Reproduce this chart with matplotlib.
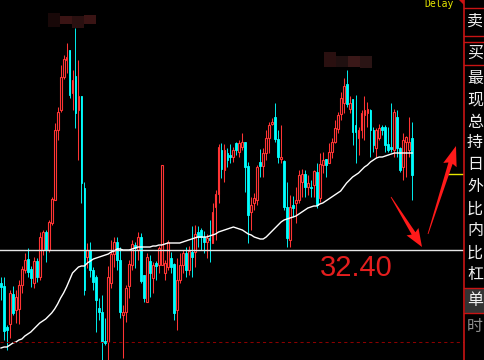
import numpy as np
import matplotlib.pyplot as plt
from matplotlib.patches import Rectangle, Polygon

# daily candles
opens = [
    30.75, 30.60, 28.55, 28.70, 30.20, 29.40, 29.45, 30.65, 31.40, 31.95,
    31.45, 30.75, 31.85, 31.05, 32.40, 33.30, 32.40, 33.75, 34.90, 38.40,
    39.40, 41.05, 41.90, 42.40, 40.25, 41.10, 39.40, 40.10, 35.50, 32.05,
    32.40, 31.40, 31.05, 29.50, 29.30, 27.85, 27.80, 30.75, 32.20, 32.80,
    31.90, 29.15, 29.30, 30.60, 31.65, 32.65, 32.40, 33.05, 31.15, 29.80,
    31.85, 31.00, 31.75, 31.65, 31.65, 31.25, 31.55, 32.00, 31.70, 29.40,
    30.90, 31.65, 32.25, 31.40, 32.30, 32.30, 33.30, 33.40, 33.05, 32.80,
    33.00, 32.75, 34.55, 35.20, 37.40, 36.40, 37.25, 37.15, 37.05, 37.75,
    37.30, 37.55, 37.80, 36.60, 34.30, 34.75, 34.90, 36.80, 36.60, 37.25,
    38.00, 38.70, 39.05, 37.95, 36.95, 36.85, 34.55, 32.90, 34.65, 34.75,
    34.90, 35.80, 36.20, 35.55, 35.55, 35.65, 36.30, 35.00, 36.65, 36.95,
    36.75, 37.30, 37.80, 38.45, 39.20, 39.75, 40.70, 39.45, 39.95, 38.65,
    38.00, 38.40, 39.15, 39.25, 39.40, 38.40, 37.50, 38.00, 38.55, 38.55,
    37.70, 37.55, 37.40, 39.05, 37.50, 36.55, 37.80, 37.40, 38.00,
]
highs = [
    31.05, 31.05, 28.65, 30.40, 30.60, 30.40, 30.90, 31.60, 32.25, 32.50,
    31.60, 32.05, 32.00, 33.30, 33.40, 33.40, 33.90, 35.05, 38.75, 39.55,
    41.65, 42.15, 42.75, 42.40, 41.40, 43.50, 41.90, 40.10, 35.80, 32.75,
    32.80, 31.55, 31.15, 30.00, 30.15, 29.00, 31.60, 32.90, 33.05, 33.05,
    32.55, 29.65, 30.65, 31.90, 32.90, 32.80, 33.30, 33.25, 31.15, 32.25,
    32.15, 31.80, 31.85, 32.60, 36.65, 31.90, 32.90, 32.30, 31.75, 32.00,
    32.25, 32.40, 32.55, 32.60, 33.60, 33.65, 33.60, 33.50, 33.35, 33.20,
    33.90, 34.75, 35.40, 37.70, 37.75, 37.70, 37.50, 37.70, 37.55, 37.80,
    37.90, 38.25, 37.80, 36.80, 35.05, 35.25, 36.65, 37.45, 37.50, 38.40,
    38.80, 39.00, 39.75, 38.40, 38.65, 36.90, 35.80, 35.15, 35.10, 35.55,
    36.40, 36.45, 36.40, 36.15, 35.90, 36.40, 36.75, 37.25, 37.30, 36.95,
    37.75, 38.00, 38.90, 39.30, 40.30, 41.00, 41.40, 40.10, 39.95, 40.15,
    38.55, 39.40, 40.10, 39.80, 39.45, 38.55, 38.50, 38.70, 38.65, 38.65,
    38.55, 39.75, 39.45, 39.40, 37.55, 38.25, 38.10, 39.05, 38.80,
]
lows = [
    29.90, 27.90, 27.40, 28.00, 29.15, 28.75, 28.70, 30.25, 31.25, 31.05,
    30.55, 30.50, 30.80, 30.90, 32.15, 31.80, 32.30, 33.65, 34.90, 37.90,
    39.30, 40.95, 41.25, 40.00, 39.40, 38.50, 36.90, 34.75, 30.15, 31.50,
    31.05, 30.40, 28.30, 28.90, 26.90, 27.65, 26.90, 30.50, 31.55, 31.40,
    29.00, 27.00, 28.80, 30.00, 31.40, 31.50, 31.90, 30.75, 29.80, 29.80,
    30.05, 30.25, 30.90, 31.25, 31.65, 30.90, 31.40, 31.25, 28.90, 28.40,
    30.75, 31.25, 31.05, 31.15, 31.05, 31.55, 32.55, 32.40, 32.25, 32.00,
    31.80, 32.75, 32.90, 34.75, 36.00, 35.80, 36.55, 36.75, 36.80, 37.15,
    37.05, 37.40, 35.30, 32.75, 33.40, 34.40, 34.65, 36.05, 36.05, 36.90,
    37.25, 38.65, 37.80, 36.75, 36.75, 34.40, 32.55, 32.55, 34.05, 33.75,
    34.75, 35.05, 35.05, 35.15, 35.05, 35.05, 34.50, 34.80, 36.25, 36.05,
    36.75, 37.00, 37.75, 38.25, 38.90, 39.25, 39.55, 39.25, 37.65, 36.75,
    37.15, 38.00, 37.90, 38.55, 37.05, 37.30, 37.05, 37.90, 38.15, 37.30,
    37.30, 37.30, 37.05, 37.05, 36.30, 35.90, 36.05, 37.05, 34.90,
]
closes = [
    30.55, 28.35, 28.40, 30.25, 29.25, 30.05, 30.65, 31.45, 31.90, 31.30,
    31.00, 31.85, 31.05, 33.05, 33.30, 32.40, 33.80, 34.95, 38.40, 39.30,
    41.05, 41.95, 42.05, 40.15, 40.90, 39.25, 40.10, 35.75, 30.40, 32.40,
    31.40, 30.80, 29.90, 29.30, 27.80, 27.75, 31.05, 32.20, 32.80, 31.90,
    29.30, 29.30, 30.50, 31.70, 32.70, 32.50, 33.05, 30.85, 30.00, 32.05,
    31.25, 31.65, 31.60, 32.50, 36.65, 31.75, 32.80, 31.55, 29.25, 30.90,
    31.65, 32.25, 31.40, 32.35, 32.05, 33.20, 33.05, 33.05, 32.80, 33.00,
    32.90, 34.30, 35.20, 37.55, 36.45, 37.40, 36.90, 37.05, 37.40, 37.40,
    37.75, 37.80, 36.55, 34.15, 34.65, 35.00, 36.55, 36.60, 37.25, 38.00,
    38.65, 38.80, 37.95, 37.05, 37.05, 34.55, 33.00, 34.55, 34.50, 34.90,
    36.15, 36.20, 35.55, 35.75, 35.50, 36.35, 34.65, 36.70, 36.90, 36.65,
    37.30, 37.80, 38.50, 39.15, 40.00, 40.60, 39.70, 39.75, 38.30, 38.30,
    38.40, 39.25, 39.40, 39.45, 38.40, 37.65, 38.40, 38.50, 38.40, 37.65,
    37.40, 37.45, 39.30, 37.50, 36.40, 37.90, 38.05, 37.80, 36.15,
]
ma_line = [
    27.50, 27.55, 27.55, 27.65, 27.75, 27.80, 27.90, 27.95, 28.10, 28.20,
    28.30, 28.45, 28.60, 28.75, 28.85, 28.95, 29.10, 29.25, 29.45, 29.70,
    30.00, 30.25, 30.55, 30.90, 31.25, 31.40, 31.55, 31.60, 31.60, 31.75,
    31.85, 31.95, 32.00, 32.05, 32.10, 32.15, 32.20, 32.30, 32.35, 32.45,
    32.45, 32.40, 32.40, 32.40, 32.45, 32.50, 32.55, 32.55, 32.55, 32.55,
    32.55, 32.60, 32.60, 32.65, 32.65, 32.70, 32.75, 32.75, 32.75, 32.75,
    32.75, 32.80, 32.85, 32.90, 32.95, 33.00, 33.05, 33.05, 33.05, 33.05,
    33.10, 33.15, 33.20, 33.30, 33.35, 33.40, 33.45, 33.50, 33.55, 33.50,
    33.45, 33.40, 33.30, 33.20, 33.15, 33.05, 33.00, 32.95, 32.95, 33.05,
    33.20, 33.35, 33.50, 33.65, 33.80, 33.90, 33.95, 34.00, 34.05, 34.10,
    34.20, 34.30, 34.40, 34.50, 34.55, 34.60, 34.60, 34.70, 34.75, 34.85,
    34.95, 35.05, 35.15, 35.25, 35.35, 35.55, 35.75, 35.90, 36.05, 36.15,
    36.25, 36.40, 36.55, 36.65, 36.80, 36.90, 37.00, 37.05, 37.05, 37.10,
    37.15, 37.20, 37.25, 37.25, 37.25, 37.25, 37.25, 37.25, 37.25,
]
ref_price = 32.40
ref_label = '32.40'
floor_price = 27.80
mark_price = 36.20
# side panel captions, cut to what fits in the visible strip
panel_labels = ['卖', '买', '最', '现', '总', '持', '日',
                '外', '比', '内', '比', '杠', '单', '时']

up_c = '#ff3434'
dn_c = '#00ffff'

fig = plt.figure(figsize=(4.84, 3.6), dpi=100, facecolor='black')
ax = fig.add_axes([0, 0, 464 / 484, 1])
ax.set_xlim(-0.34, 155.4)
ax.set_ylim(26.9, 44.9)
ax.axis('off')

o = np.array(opens)
h = np.array(highs)
l = np.array(lows)
c = np.array(closes)
x = np.arange(len(o))
up = c >= o
top = np.maximum(o, c)
bot = np.minimum(o, c)

# wicks (hollow red candles: wick stops at the body)
ax.vlines(x[up], top[up], h[up], color=up_c, lw=0.75)
ax.vlines(x[up], l[up], bot[up], color=up_c, lw=0.75)
ax.vlines(x[~up], l[~up], h[~up], color=dn_c, lw=0.65)
ax.bar(x[up], (top - bot)[up], bottom=bot[up], width=0.62,
       facecolor='black', edgecolor=up_c, lw=0.8)
ax.bar(x[~up], (top - bot)[~up], bottom=bot[~up], width=0.62,
       facecolor=dn_c, edgecolor=dn_c, lw=0.6)

ax.plot(x, ma_line, color='white', lw=1.0)
ax.axhline(ref_price, color='#e6e6e6', lw=1.0)
ax.axhline(floor_price, color='#8b0000', lw=0.75, ls=(0, (3, 3)))
ax.axhline(mark_price, xmin=447 / 464, xmax=1, color='#e6e600', lw=1.0)

# overlay in pixel coordinates for the side panel and annotations
ov = fig.add_axes([0, 0, 1, 1])
ov.set_xlim(0, 484)
ov.set_ylim(360, 0)
ov.axis('off')

# blurred price tags
for (bx, by, bw, bh, col) in [(48, 13, 12, 14, '#180808'), (60, 16, 12, 8, '#3a1414'),
                              (72, 16, 12, 12, '#2a1010'), (84, 15, 12, 9, '#3a1414'),
                              (324, 52, 12, 15, '#2a1010'), (336, 56, 12, 11, '#201010'),
                              (348, 56, 12, 11, '#3a1818'), (360, 56, 12, 12, '#2a1414')]:
    ov.add_patch(Rectangle((bx, by), bw, bh, color=col, lw=0))

ov.text(424, 4, 'Delay', color='#e6e600', fontsize=7, family='DejaVu Sans Mono',
        va='center', ha='left')
ov.add_patch(Polygon([(459, 0), (464, 0), (464, 5)], closed=True, color='#d01010', lw=0))

# side panel
ov.plot([464, 464], [0, 360], color='#c81414', lw=1.2)
for yy in [8, 36, 42, 65, 288, 313]:
    ov.plot([464, 484], [yy, yy], color='#c81414', lw=1.0)
ov.add_patch(Rectangle((465, 289), 19, 23.5, color='#333333', lw=0))
label_y = [21, 53, 78, 100, 122, 143, 165, 187, 209, 231, 253, 275, 300, 327]
for i, (lab, yy) in enumerate(zip(panel_labels, label_y)):
    col = '#909090' if i == len(panel_labels) - 1 else '#f0f0f0'
    ov.text(467, yy, lab, color=col, fontsize=11.5, va='center', ha='left',
            family=['Noto Sans CJK SC', 'DejaVu Sans'])

ov.text(320, 268, ref_label, color='#e41e1e', fontsize=21,
        family='Liberation Sans', va='center', ha='left')


def arrow(tail, tip, head_len, head_w, w0, w1):
    tail = np.array(tail, float)
    tip = np.array(tip, float)
    d = tip - tail
    u = d / np.hypot(*d)
    n = np.array([-u[1], u[0]])
    b = tip - head_len * u
    pts = [tail + w0 * n, b + w1 * n, b - 2 * u + head_w * n, tip,
           b - 2 * u - head_w * n, b - w1 * n, tail - w0 * n]
    ov.add_patch(Polygon(pts, closed=True, color='#ff1a1a', lw=0))


arrow((391, 197), (422, 247), 16, 7, 0.4, 2.2)
arrow((428, 234), (456, 146), 18, 7, 0.4, 2.2)

fig.savefig('out.png', dpi=100, facecolor='black')
